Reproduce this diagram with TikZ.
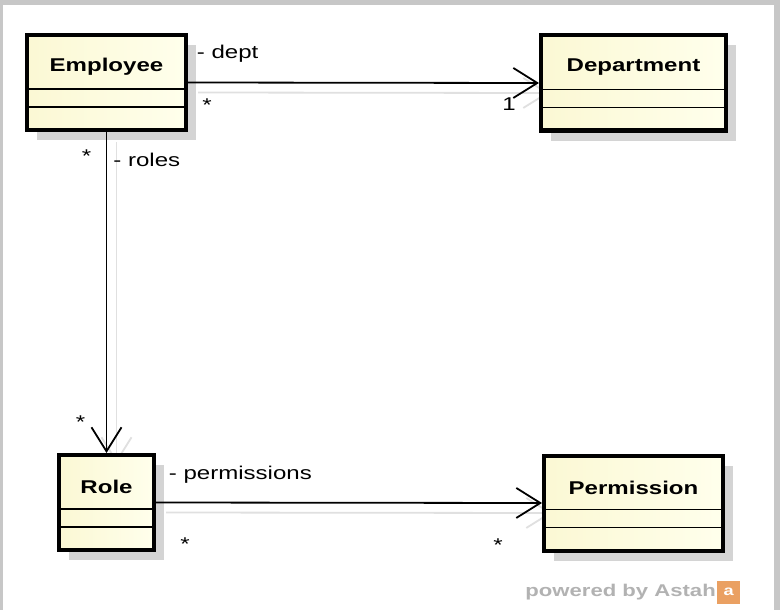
\documentclass[tikz,border=0pt]{standalone}
\usepackage{fontspec}
\setmainfont{Liberation Sans}[FakeStretch=1.3]
\usetikzlibrary{arrows.meta,shadows,backgrounds,positioning}
\definecolor{classleft}{RGB}{251,248,212}
\definecolor{classright}{RGB}{255,255,236}
\definecolor{astahgray}{RGB}{178,178,178}
\definecolor{astahorange}{RGB}{234,160,98}
\tikzset{
	classbox/.style={draw,line width=4pt,inner sep=0pt,minimum height=95pt,left color=classleft,right color=classright,
		drop shadow={shadow xshift=10pt,shadow yshift=-10pt,fill=black!17,opacity=1}},
	classname/.style={font=\fontsize{18.5}{22}\selectfont\bfseries,inner sep=0pt},
	divider/.style={line width=1.5pt},
	assoc/.style={line width=1.8pt,-{Straight Barb[length=24pt,width=30pt]}},
	assocshadow/.style={assoc,black!12},
	endlabel/.style={inner sep=0pt}
}
\begin{document}
\begin{tikzpicture}[x=1pt,y=-1pt,font=\fontsize{18.5}{22}\selectfont]
		\useasboundingbox (0,0) rectangle (780,610);
		%classes
		\foreach \nm/\x/\y/\w/\txt in {emp/106.5/82.5/159/Employee,dep/633.5/83/185/Department,role/106.5/502.5/95/Role,perm/633.5/503/179/Permission}{
		\node[classbox,minimum width=\w pt] (\nm) at (\x,\y) {};
		\node[classname] (\nm-name) at ([yshift=-34pt]\nm.north) {\txt};
		\draw[divider] ([yshift=-56pt]\nm.north west) -- ([yshift=-56pt]\nm.north east);
		\draw[divider] ([yshift=-74pt]\nm.north west) -- ([yshift=-74pt]\nm.north east);
		}
		%frame and shadows of the associations
		\begin{scope}[on background layer]
		\fill[black!22] (0,0) rectangle (780,610);
		\fill[white] (3,5) rectangle (774,610);
		\draw[assocshadow] ([shift={(10,10)}]emp.east) -- ([shift={(10,10)}]dep.west);
		\draw[assocshadow] ([shift={(10,10)}]emp.south) -- ([shift={(10,10)}]role.north);
		\draw[assocshadow] ([shift={(10,10)}]role.east) -- ([shift={(10,10)}]perm.west);
		\end{scope}
		%associations
		\draw[assoc] (emp.east) -- (dep.west)
			node[endlabel,at start,anchor=west,xshift=8pt,yshift=29pt] {- dept}
			node[endlabel,at start,xshift=19pt,yshift=-23pt] {*}
			node[endlabel,at end,xshift=-30pt,yshift=-21pt] {1};
		\draw[assoc] (emp.south) -- (role.north)
			node[endlabel,at start,xshift=-20pt,yshift=-24pt] {*}
			node[endlabel,at start,anchor=west,xshift=6pt,yshift=-28pt] {- roles}
			node[endlabel,at end,xshift=-26pt,yshift=31pt] {*};
		\draw[assoc] (role.east) -- (perm.west)
			node[endlabel,at start,anchor=west,xshift=12pt,yshift=28pt] {- permissions}
			node[endlabel,at start,xshift=29pt,yshift=-42pt] {*}
			node[endlabel,at end,xshift=-44pt,yshift=-42pt] {*};
		%watermark
		\node[astahgray,font=\fontsize{17}{20}\selectfont\bfseries,anchor=east,inner sep=0pt] (powered) at (716,592) {powered by Astah};
		\node[fill=astahorange,minimum size=23pt,inner sep=0pt,right=1pt of powered.east,text=white,font=\fontsize{14}{16}\selectfont\bfseries] (logo) {a};
		\end{tikzpicture}
\end{document}
